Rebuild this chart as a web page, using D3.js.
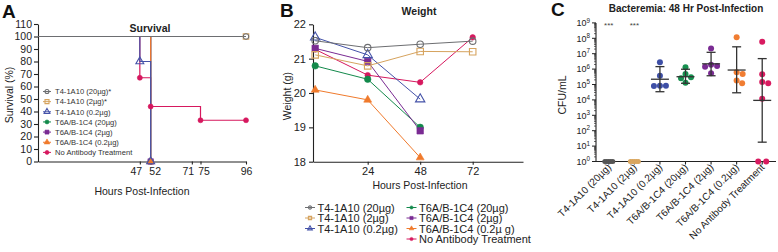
<!DOCTYPE html>
<html><head><meta charset="utf-8">
<script src="https://cdn.jsdelivr.net/npm/d3@7"></script>
<style>
body{margin:0;background:#fff}
svg{display:block;font-family:"Liberation Sans",Arial,sans-serif}
</style>
</head><body>
<svg id="chart" width="778" height="252"></svg>
<script>
// ---------------- DATA ----------------
const groups = ["T4-1A10 (20µg)","T4-1A10 (2µg)","T4-1A10 (0.2µg)","T6A/B-1C4 (20µg)","T6A/B-1C4 (2µg)","T6A/B-1C4 (0.2µg)","No Antibody Treatment"];
const survivalLegend = ["T4-1A10 (20µg)*","T4-1A10 (2µg)*","T4-1A10 (0.2µg)","T6A/B-1C4 (20µg)","T6A/B-1C4 (2µg)","T6A/B-1C4 (0.2µg)","No Antibody Treatment"];
const weightLegend = ["T4-1A10 (20µg)","T4-1A10 (2µg)","T4-1A10 (0.2µg)","T6A/B-1C4 (20µg)","T6A/B-1C4 (2µg)","T6A/B-1C4 (0.2µ g)","No Antibody Treatment"];

// Panel A: survival (Kaplan-Meier steps)
const survivalTime = [[0,96],[0,96],[0,47,52],[0,52],[0,52],[0,52],[0,47,52,75,96]];
const survivalPct  = [[100,100],[100,100],[100,80,0],[100,0],[100,0],[100,0],[100,67,44,33,33]];
const survivalXTicks = [47,52,71,75,96];
const survivalYTicks = [0,10,20,30,40,50,60,70,80,90,100,110];

// Panel B: weight (g)
const weightTime = [0,24,48,72];
const weight = [
  [21.52,21.32,21.42,21.51],
  [21.11,20.79,21.21,21.20],
  [21.62,21.11,19.82],
  [20.79,20.40,19.00],
  [21.30,20.92,18.90],
  [20.09,19.80,18.12],
  [21.27,20.52,20.31,21.62]
];
const weightXTicks = [24,48,72];
const weightYTicks = [18,19,20,21,22];

// Panel C: bacteremia CFU/mL at 48 h
const cfu = [
  [1,1,1,1,1],
  [1,1,1,1,1],
  [2.8e6,3.7e5,8.3e4,8.0e4,8.3e4],
  [1.3e6,4.8e5,3.0e5,2.5e5,1.3e5],
  [2.2e7,1.9e6,1.6e6,1.4e6,5.4e5],
  [1.15e8,6.2e5,4.8e5,1.2e5,1.8e5],
  [6.0e7,4.6e5,1.2e5,1.45e5,1.2e4,1,1]
];
const cfuMean  = [null,null,2.2e5,3.2e5,2.2e6,8.7e5,9.3e3];
const cfuUpper = [null,null,1.45e6,9.8e5,1.23e7,2.8e7,4.8e6];
const cfuLower = [null,null,3.4e4,1.2e5,3.7e5,2.9e4,18];
const cfuSig   = ["***","***","","","","",""];
const cfuYTicks = [0,1,2,3,4,5,6,7,8,9];

// ---------------- STYLE ----------------
const lineColors = ["#6d6e71","#d6a35e","#4452a8","#13894b","#7a2b93","#f07a2c","#d6185e"];
const dotColors  = ["#555555","#d9a65f","#3e4fa6","#16904f","#7a2b93","#f07d32","#d81b60"];
const markerType = ["circleOpen","squareOpen","triangleOpen","circle","square","triangle","circle"];
const ink = "#222";
const tickNudgeA = {47:-4, 52:4, 71:-4, 75:3, 96:0};

const svg = d3.select("#chart");

function marker(g, type, x, y, color, s) {
  const sym = {circleOpen:d3.symbolCircle,circle:d3.symbolCircle,squareOpen:d3.symbolSquare,square:d3.symbolSquare,triangleOpen:d3.symbolTriangle,triangle:d3.symbolTriangle}[type];
  const open = type.endsWith("Open");
  const area = type.startsWith("square") ? s*s*1.0 : type.startsWith("triangle") ? s*s*0.9 : Math.PI*(s/2)*(s/2);
  g.append("path").attr("d", d3.symbol(sym, area)())
    .attr("transform", `translate(${x},${y})`)
    .attr("fill", open ? "#fff" : color)
    .attr("fill-opacity", open ? 0 : 1)
    .attr("stroke", color).attr("stroke-width", open ? 1.1 : 0.6);
}

function styleAxis(g, fs) {
  g.select(".domain").attr("stroke", ink).attr("stroke-width", 1.1);
  g.selectAll(".tick line").attr("stroke", ink).attr("stroke-width", 1.1);
  g.selectAll(".tick text").attr("fill", ink).attr("font-size", fs).attr("font-family", null);
}

function panelLetter(t, x, y) {
  svg.append("text").attr("x", x).attr("y", y).attr("font-size", 19).attr("font-weight", "bold").attr("fill", "#111").text(t);
}

// ================= PANEL A =================
panelLetter("A", 2, 18);
const xA = d3.scaleLinear([0,96],[38,246]);
const yA = d3.scaleLinear([0,110],[161.5,24]);
const gA = svg.append("g");

const axAy = gA.append("g").attr("transform","translate(38,0)")
  .call(d3.axisLeft(yA).tickValues(survivalYTicks).tickSize(4).tickSizeOuter(0).tickPadding(2));
styleAxis(axAy, 10.5);
const axAx = gA.append("g").attr("transform","translate(0,161.5)")
  .call(d3.axisBottom(xA).tickValues(survivalXTicks).tickSize(3).tickSizeOuter(0).tickPadding(3));
styleAxis(axAx, 10.5);
axAx.selectAll(".tick text").attr("dx", d => tickNudgeA[d] || 0);

gA.append("text").attr("x",150).attr("y",32).attr("text-anchor","middle").attr("font-size",10.5).attr("font-weight","bold").attr("fill",ink).text("Survival");
gA.append("text").attr("transform","translate(13,95) rotate(-90)").attr("text-anchor","middle").attr("font-size",10.5).attr("fill",ink).text("Survival (%)");
gA.append("text").attr("x",142).attr("y",195).attr("text-anchor","middle").attr("font-size",10.5).attr("fill",ink).text("Hours Post-Infection");

const stepLine = d3.line().x(d=>xA(d[0])).y(d=>yA(d[1])).curve(d3.curveStepAfter);
const drawOrderA = [6,3,4,5,2,1,0];
drawOrderA.forEach(i => {
  const pts = survivalTime[i].map((t,k)=>[t, survivalPct[i][k]]);
  gA.append("path").attr("d", stepLine(pts)).attr("fill","none").attr("stroke", lineColors[i]).attr("stroke-width",1.2);
});
drawOrderA.forEach(i => {
  survivalTime[i].forEach((t,k) => {
    if (k === 0) return;
    marker(gA, markerType[i], xA(t), yA(survivalPct[i][k]), lineColors[i], i===6 ? 5 : 5.5);
  });
});

// legend A
survivalLegend.forEach((name,i) => {
  const y = 91.5 + i*10.15;
  gA.append("line").attr("x1",43).attr("x2",51).attr("y1",y).attr("y2",y).attr("stroke",lineColors[i]).attr("stroke-width",1);
  marker(gA, markerType[i], 47, y, lineColors[i], 4);
  gA.append("text").attr("x",55).attr("y",y+2.7).attr("font-size",7.6).attr("fill","#333").text(name);
});

// ================= PANEL B =================
panelLetter("B", 280, 17);
const xB = d3.scaleLinear([-1,95],[313,523]);
const yB = d3.scaleLinear([18,22],[161.7,24.3]);
const gB = svg.append("g");

const axBy = gB.append("g").attr("transform","translate(313,0)")
  .call(d3.axisLeft(yB).tickValues(weightYTicks).tickFormat(d3.format("d")).tickSize(4).tickSizeOuter(0).tickPadding(3));
styleAxis(axBy, 11);
const axBx = gB.append("g").attr("transform","translate(0,161.7)")
  .call(d3.axisBottom(xB).tickValues(weightXTicks).tickSize(3).tickSizeOuter(0).tickPadding(3));
styleAxis(axBx, 11);

gB.append("text").attr("x",419).attr("y",14.5).attr("text-anchor","middle").attr("font-size",10.5).attr("font-weight","bold").attr("fill",ink).text("Weight");
gB.append("text").attr("transform","translate(291,96) rotate(-90)").attr("text-anchor","middle").attr("font-size",10.5).attr("fill",ink).text("Weight (g)");
gB.append("text").attr("x",420).attr("y",189).attr("text-anchor","middle").attr("font-size",10.5).attr("fill",ink).text("Hours Post-Infection");

const lineB = d3.line().x((d,k)=>xB(weightTime[k])).y(d=>yB(d));
const drawOrderB = [6,5,3,4,2,1,0];
drawOrderB.forEach(i => {
  gB.append("path").attr("d", lineB(weight[i])).attr("fill","none").attr("stroke", lineColors[i]).attr("stroke-width",1);
});
drawOrderB.forEach(i => {
  weight[i].forEach((v,k) => {
    const s = markerType[i]==="triangle" ? 5.5 : (i===6 ? 5.5 : 6.5);
    marker(gB, markerType[i], xB(weightTime[k]), yB(v), lineColors[i], s);
  });
});

// legend B
weightLegend.forEach((name,i) => {
  const col = i < 3 ? 0 : 1;
  const row = i < 3 ? i : i-3;
  const y = 207.5 + row*10.5;
  const mx = col === 0 ? 310 : 411.5;
  gB.append("line").attr("x1",mx-5).attr("x2",mx+5).attr("y1",y).attr("y2",y).attr("stroke",lineColors[i]).attr("stroke-width",1);
  marker(gB, markerType[i], mx, y, lineColors[i], 3.2);
  gB.append("text").attr("x",mx+7.5).attr("y",y+4).attr("font-size",11).attr("fill",ink).text(name);
});

// ================= PANEL C =================
panelLetter("C", 551, 16);
const xC = d3.scaleBand(groups,[596,775]);
const yC = d3.scaleLog([1,1e9],[161.5,22.9]);
const gC = svg.append("g");

gC.append("text").attr("x",686).attr("y",11.5).attr("text-anchor","middle").attr("font-size",10).attr("font-weight","bold").attr("fill",ink).text("Bacteremia: 48 Hr Post-Infection");
gC.append("text").attr("transform","translate(566,95) rotate(-90)").attr("text-anchor","middle").attr("font-size",10.5).attr("fill",ink).text("CFU/mL");

// y axis with minor ticks
const gCy = gC.append("g");
gCy.append("line").attr("x1",596).attr("x2",596).attr("y1",yC(1e9)).attr("y2",yC(1)).attr("stroke",ink).attr("stroke-width",1.1);
cfuYTicks.forEach(p => {
  const y = yC(Math.pow(10,p));
  gCy.append("line").attr("x1",592).attr("x2",596).attr("y1",y).attr("y2",y).attr("stroke",ink).attr("stroke-width",1);
  if (p < 9) for (let m=2; m<10; m++) {
    const ym = yC(m*Math.pow(10,p));
    gCy.append("line").attr("x1",594).attr("x2",596).attr("y1",ym).attr("y2",ym).attr("stroke",ink).attr("stroke-width",0.7);
  }
  const t = gCy.append("text").attr("x",590).attr("y",y+3.3).attr("text-anchor","end").attr("font-size",9).attr("fill",ink);
  t.append("tspan").text("10");
  t.append("tspan").attr("dy",-3.6).attr("font-size",6.3).text(p);
});

// x axis
const axCx = gC.append("g").attr("transform","translate(0,161.5)")
  .call(d3.axisBottom(xC).tickSize(3).tickSizeOuter(0).tickFormat(""));
styleAxis(axCx, 10);
axCx.select(".domain").attr("d","M596,0H776");
groups.forEach(gname => {
  const x = xC(gname) + xC.bandwidth()/2;
  gC.append("text").attr("transform",`translate(${x+3},${168}) rotate(-45)`).attr("text-anchor","end")
    .attr("font-size",10).attr("fill",ink).text(gname);
});

// dots with simple beeswarm
const R = 3;
groups.forEach((gname,i) => {
  const cx = xC(gname) + xC.bandwidth()/2;
  const vals = cfu[i].slice();
  const floor = vals.filter(v=>v<=1);
  const rest = vals.filter(v=>v>1).sort((a,b)=>b-a);
  const placed = [];
  rest.forEach(v => {
    const y = yC(v);
    let best = 0;
    for (let k=0; k<200; k++) {
      const off = (k%2===1 ? 1 : -1) * Math.ceil(k/2) * 0.5;
      if (placed.every(p => Math.hypot(p[0]-off, p[1]-y) >= 6)) { best = off; break; }
    }
    placed.push([best,y]);
  });
  floor.forEach((v,k) => {
    const n = floor.length;
    const off = n > 1 ? -4 + 8*k/(n-1) : 0;
    placed.push([off, yC(v)]);
  });
  placed.forEach(p => {
    gC.append("circle").attr("cx",cx+p[0]).attr("cy",p[1]).attr("r", floor.length>2 && p[1]===yC(1) ? 2.5 : R).attr("fill",dotColors[i]);
  });
  if (cfuMean[i] !== null) {
    const eb = gC.append("g").attr("stroke","#333").attr("stroke-width",1.3);
    eb.append("line").attr("x1",cx).attr("x2",cx).attr("y1",yC(cfuUpper[i])).attr("y2",yC(cfuLower[i]));
    eb.append("line").attr("x1",cx-9).attr("x2",cx+9).attr("y1",yC(cfuMean[i])).attr("y2",yC(cfuMean[i]));
    [cfuUpper[i],cfuLower[i]].forEach(v => eb.append("line").attr("x1",cx-4.5).attr("x2",cx+4.5).attr("y1",yC(v)).attr("y2",yC(v)));
  }
  if (cfuSig[i]) gC.append("text").attr("x",cx).attr("y",28).attr("text-anchor","middle").attr("font-size",8).attr("fill","#444").text(cfuSig[i]);
});
</script>
</body></html>
